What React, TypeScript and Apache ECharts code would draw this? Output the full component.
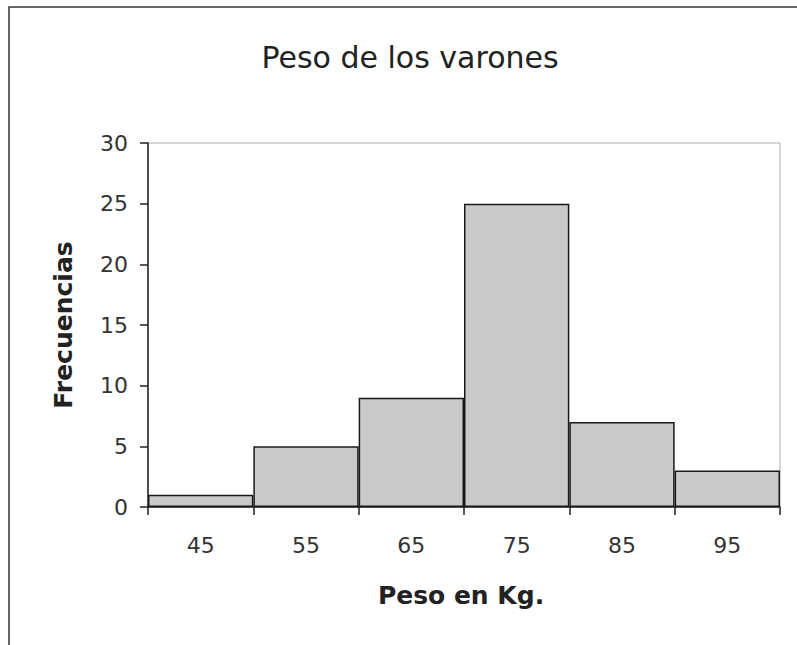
import React, { useEffect, useRef } from "react";
import * as echarts from "echarts";

const categories = ["45", "55", "65", "75", "85", "95"];
const frequencies = [1, 5, 9, 25, 7, 3];
const titleText = "Peso de los varones";
const xName = "Peso en Kg.";
const yName = "Frecuencias";

export default function App() {
  const ref = useRef<HTMLDivElement>(null);
  useEffect(() => {
    document.body.style.margin = "0";
    const chart = echarts.init(ref.current!, null, { renderer: "svg" });
    const font = "DejaVu Sans, Verdana, sans-serif";
    chart.setOption({
      animation: false,
      backgroundColor: "#ffffff",
      textStyle: { fontFamily: font },
      graphic: [
        {
          type: "rect",
          shape: { x: 9, y: 7, width: 900, height: 800 },
          style: { fill: "none", stroke: "#333", lineWidth: 1.5 },
          silent: true,
        },
        {
          type: "text",
          x: 410,
          y: 57,
          style: {
            text: titleText,
            fontSize: 30,
            fontFamily: font,
            fill: "#222",
            textAlign: "center",
            textVerticalAlign: "middle",
          },
        },
        {
          type: "text",
          x: 461,
          y: 595,
          style: {
            text: xName,
            fontSize: 25,
            fontWeight: "bold",
            fontFamily: font,
            fill: "#222",
            textAlign: "center",
            textVerticalAlign: "middle",
          },
        },
        {
          type: "text",
          x: 63,
          y: 325,
          rotation: Math.PI / 2,
          style: {
            text: yName,
            fontSize: 25,
            fontWeight: "bold",
            fontFamily: font,
            fill: "#222",
            textAlign: "center",
            textVerticalAlign: "middle",
          },
        },
      ],
      grid: {
        left: 148,
        right: 17,
        top: 143,
        bottom: 138,
        show: true,
        borderColor: "#aaaaaa",
        borderWidth: 1,
        backgroundColor: "#ffffff",
      },
      xAxis: {
        type: "category",
        data: categories,
        boundaryGap: true,
        axisLine: { lineStyle: { color: "#222", width: 1.5 } },
        axisTick: { show: true, length: 8, lineStyle: { color: "#222", width: 1.5 } },
        axisLabel: { fontSize: 22, color: "#333", margin: 27, fontFamily: font },
      },
      yAxis: {
        type: "value",
        min: 0,
        max: 30,
        interval: 5,
        splitLine: { show: false },
        axisLine: { show: true, lineStyle: { color: "#222", width: 1.5 } },
        axisTick: { show: true, length: 8, lineStyle: { color: "#222", width: 1.5 } },
        axisLabel: { fontSize: 22, color: "#333", margin: 20, fontFamily: font },
      },
      series: [
        {
          type: "bar",
          data: frequencies,
          barCategoryGap: "0%",
          itemStyle: { color: "#cacaca", borderColor: "#1a1a1a", borderWidth: 1.5 },
        },
      ],
    });
    return () => chart.dispose();
  }, []);
  return <div ref={ref} style={{ width: 797, height: 645 }} />;
}
